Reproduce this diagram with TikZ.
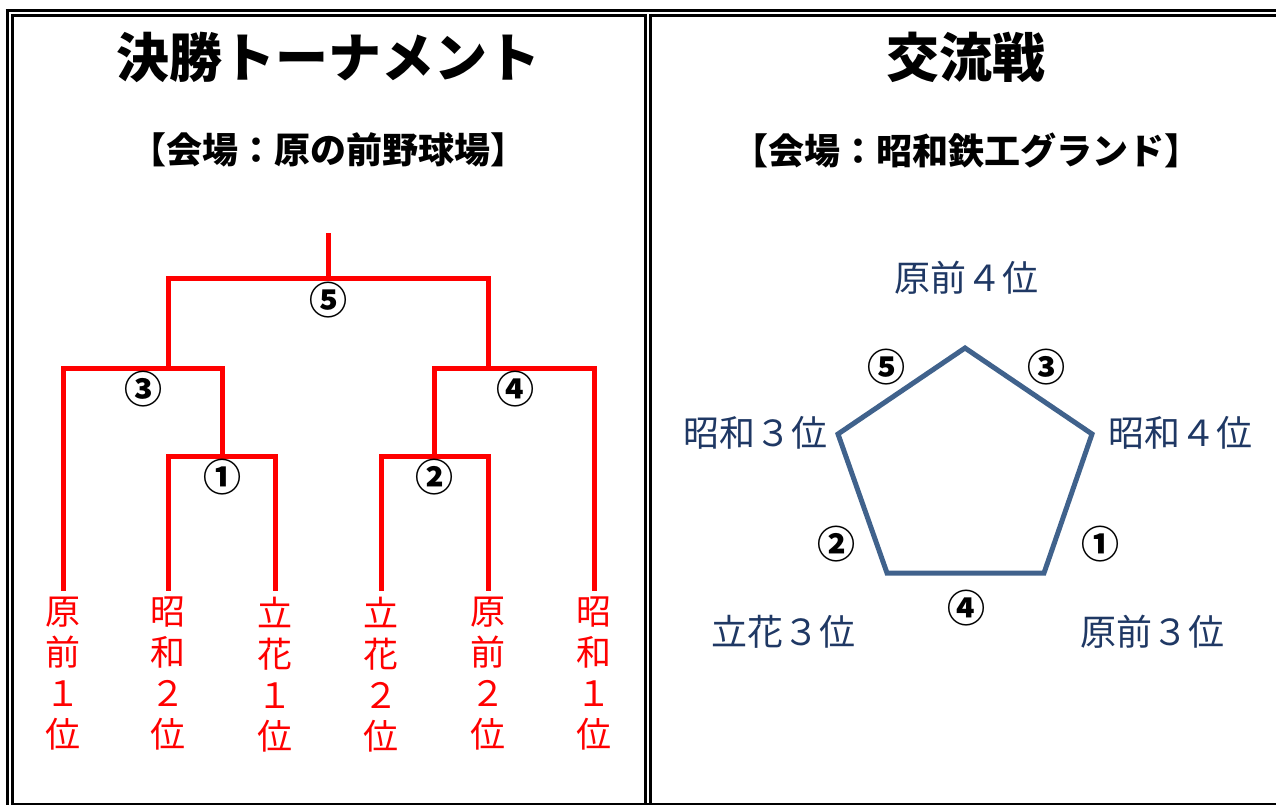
\documentclass[tikz,border=0pt]{standalone}
\usepackage{fontspec}
\newfontfamily\cjk{Noto Sans CJK JP}
\definecolor{bracketred}{RGB}{255,0,0}
\definecolor{navytext}{RGB}{31,56,100}
\definecolor{pentaline}{RGB}{64,98,140}
\tikzset{
  frame/.style={line width=3pt, black},
  bline/.style={line width=5pt, bracketred, line cap=rect, line join=miter},
  title/.style={font=\cjk\bfseries\fontsize{53}{60}\selectfont, inner sep=0pt},
  venue/.style={font=\cjk\bfseries\fontsize{36}{40}\selectfont, inner sep=0pt},
  leaf/.style={font=\cjk\fontsize{35}{41}\selectfont, text=bracketred, align=center, inner sep=0pt, anchor=north},
  circ/.style={font=\cjk\bfseries\fontsize{38}{40}\selectfont, inner sep=0pt},
  team/.style={font=\cjk\fontsize{36}{40}\selectfont, text=navytext, inner sep=0pt},
  penta/.style={line width=5pt, pentaline, line join=miter}
}
\begin{document}
\begin{tikzpicture}[x=1pt, y=-1pt]
\useasboundingbox (0,0) rectangle (1276,805);
% frame
\coordinate (otl) at (5.5,10.5); \coordinate (otr) at (1276,10.5);
\draw[frame] (otl) -- (otr);
\draw[frame] (7,9) -- (7,805);
\draw[frame] (12.5,15.5) -- (645,15.5);
\draw[frame] (12.5,14) -- (12.5,805);
\draw[frame] (645,14) -- (645,805);
\draw[frame] (650,15.5) -- (1276,15.5);
\draw[frame] (650,14) -- (650,805);
\draw[line width=2pt] (11,804) -- (1276,804);

% titles
\node[title] (t1) at (328,57) {決勝トーナメント};
\node[title] (t2) at (966,57) {交流戦};
\node[venue] (v1) at (328,150) {【会場：原の前野球場】};
\node[venue] (v2) at (966,150) {【会場：昭和鉄工グランド】};

% bracket coordinates
\coordinate (top) at (328,235);
\coordinate (f) at (328,278);
\coordinate (fl) at (168,278); \coordinate (fr) at (488,278);
\coordinate (sl) at (168,368); \coordinate (sr) at (488,368);
\coordinate (sll) at (63,368); \coordinate (slr) at (222,368);
\coordinate (srl) at (434,368); \coordinate (srr) at (594,368);
\coordinate (ql) at (222,456); \coordinate (qr) at (434,456);
\coordinate (qll) at (168,456); \coordinate (qlr) at (275,456);
\coordinate (qrl) at (381,456); \coordinate (qrr) at (488,456);

% leaves
\node[leaf] (l1) at (63,597) {原\\前\\１\\位};
\node[leaf] (l2) at (168,597) {昭\\和\\２\\位};
\node[leaf] (l3) at (275,597) {立\\花\\１\\位};
\node[leaf] (l4) at (381,597) {立\\花\\２\\位};
\node[leaf] (l5) at (488,597) {原\\前\\２\\位};
\node[leaf] (l6) at (594,597) {昭\\和\\１\\位};

\draw[bline] (top) -- (f);
\draw[bline] (sl) -- (fl) -- (fr) -- (sr);
\draw[bline] ([yshift=9pt]sll |- l1.north) -- (sll) -- (slr) -- (ql);
\draw[bline] ([yshift=9pt]srr |- l6.north) -- (srr) -- (srl) -- (qr);
\draw[bline] ([yshift=9pt]qll |- l2.north) -- (qll) -- (qlr) -- ([yshift=9pt]qlr |- l3.north);
\draw[bline] ([yshift=9pt]qrl |- l4.north) -- (qrl) -- (qrr) -- ([yshift=9pt]qrr |- l5.north);

% match numbers
\node[circ] (m5) at (328,300) {⑤};
\node[circ] (m3) at (143,389) {③};
\node[circ] (m4) at (515,389) {④};
\node[circ] (m1) at (222,477) {①};
\node[circ] (m2) at (434,477) {②};

% pentagon
\coordinate (pa) at (965,348);
\coordinate (pb) at (1092,434);
\coordinate (pc) at (1044,573);
\coordinate (pd) at (887,573);
\coordinate (pe) at (838,434);
\draw[penta] (pa) -- (pb) -- (pc) -- (pd) -- (pe) -- cycle;

\node[team] (h4) at (966,278) {原前４位};
\node[team] (s3) at (755,433) {昭和３位};
\node[team] (s4) at (1180,433) {昭和４位};
\node[team] (t3) at (783,632) {立花３位};
\node[team] (h3) at (1152,632) {原前３位};

\node[circ] (g5) at (886,367) {⑤};
\node[circ] (g3) at (1046,367) {③};
\node[circ] (g2) at (836,544) {②};
\node[circ] (g1) at (1100,544) {①};
\node[circ] (g4) at (966,608) {④};
\end{tikzpicture}
\end{document}
